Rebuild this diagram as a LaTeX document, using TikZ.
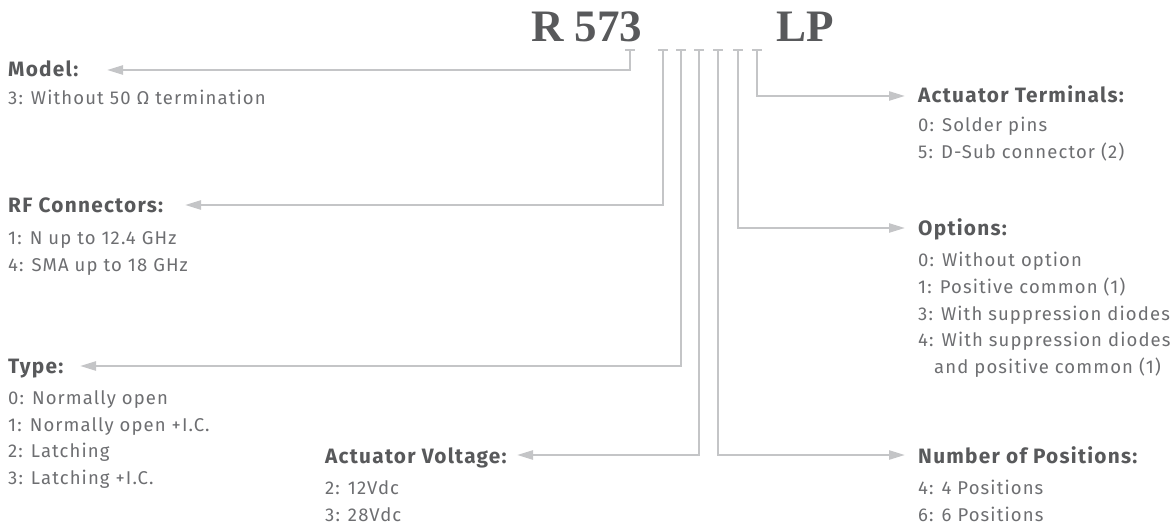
\documentclass[tikz,border=0pt]{standalone}
\usepackage{fontspec}
\setmainfont{Fira Sans}
\newfontfamily\headfont[LetterSpace=6]{Fira Sans}
\newfontfamily\bodyfont[LetterSpace=6]{Fira Sans}
\newfontfamily\titlefont{Liberation Serif}
\usetikzlibrary{arrows.meta}
\definecolor{headc}{HTML}{58595B}
\definecolor{bodyc}{HTML}{6D6E71}
\definecolor{linec}{HTML}{C4C5C7}
\tikzset{
  head/.style={anchor=base west, inner sep=0pt, text=headc, font=\headfont\fontsize{20.8}{24}\selectfont\bfseries},
  item/.style={anchor=base west, inner sep=0pt, text=bodyc, font=\bodyfont\fontsize{18.5}{22}\selectfont},
  ttl/.style={anchor=base west, inner sep=0pt, text=headc, font=\titlefont\fontsize{45}{50}\selectfont\bfseries},
  conn/.style={draw=linec, line width=2.4pt, -{Triangle[length=16pt,width=9pt]}},
  tickcap/.style={draw=linec, line width=2.4pt}
}
\begin{document}
\begin{tikzpicture}[x=1pt,y=-1pt]
\useasboundingbox (0,0) rectangle (1174,529);
% title
\node[ttl] (r573) at (531,42) {R 573};
\node[ttl] (lp) at (776,42) {LP};
% tick tops
\coordinate (t1) at (630,50);
\coordinate (t2) at (663,50);
\coordinate (t3) at (681,50);
\coordinate (t4) at (699,50);
\coordinate (t5) at (718,50);
\coordinate (t6) at (738,50);
\coordinate (t7) at (757,50);
\foreach \t in {t1,t2,t3,t4,t5,t6,t7}{
  \draw[tickcap] ([xshift=-5pt]\t) -- ([xshift=5pt]\t);
}
% arrow tips
\coordinate (aM) at (107,70);
\coordinate (aR) at (185,205);
\coordinate (aT) at (80,366);
\coordinate (aV) at (517,455);
\coordinate (aN) at (905,455);
\coordinate (aO) at (905,228);
\coordinate (aA) at (905,96);
\draw[conn] (t1) |- (aM);
\draw[conn] (t2) |- (aR);
\draw[conn] (t3) |- (aT);
\draw[conn] (t4) |- (aV);
\draw[conn] (t5) |- (aN);
\draw[conn] (t6) |- (aO);
\draw[conn] (t7) |- (aA);
% Model
\node[head] (hM) at (8,77) {Model:};
\node[item] (m1) at (8,105) {3: Without 50 Ω termination};
% RF
\node[head] (hR) at (8,213) {RF Connectors:};
\node[item] (r1) at (8,244) {1: N up to 12.4 GHz};
\node[item] (r2) at (8,271) {4: SMA up to 18 GHz};
% Type
\node[head] (hT) at (8,373) {Type:};
\node[item] (y1) at (8,404) {0: Normally open};
\node[item] (y2) at (8,431) {1: Normally open +I.C.};
\node[item] (y3) at (8,457) {2: Latching};
\node[item] (y4) at (8,484) {3: Latching +I.C.};
% Actuator Voltage
\node[head] (hV) at (325,463) {Actuator Voltage:};
\node[item] (v1) at (325,494) {2: 12Vdc};
\node[item] (v2) at (325,521) {3: 28Vdc};
% Actuator Terminals
\node[head] (hA) at (918,103) {Actuator Terminals:};
\node[item] (at1) at (918,132) {0: Solder pins};
\node[item] (at2) at (918,159) {5: D-Sub connector (2)};
% Options
\node[head] (hO) at (918,236) {Options:};
\node[item] (o1) at (918,266) {0: Without option};
\node[item] (o2) at (918,293) {1: Positive common (1)};
\node[item] (o3) at (918,320) {3: With suppression diodes};
\node[item] (o4) at (918,346) {4: With suppression diodes};
\node[item] (o5) at (934,373) {and positive common (1)};
% Number of Positions
\node[head] (hN) at (918,463) {Number of Positions:};
\node[item] (n1) at (918,494) {4: 4 Positions};
\node[item] (n2) at (918,521) {6: 6 Positions};
\end{tikzpicture}
\end{document}
